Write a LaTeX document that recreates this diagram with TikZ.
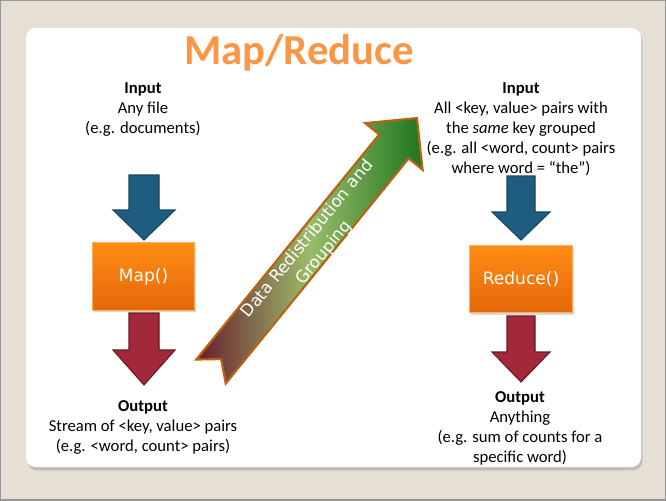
\documentclass[tikz,border=0pt]{standalone}
\usepackage{fontspec}
\setmainfont{Carlito}
\newfontfamily\boxfont{DejaVu Sans}
\usetikzlibrary{shadows}
\definecolor{bgbeige}{RGB}{229,223,212}
\definecolor{framegray}{RGB}{150,150,150}
\definecolor{titleorange}{RGB}{250,150,70}
\definecolor{arrowblue}{RGB}{31,93,128}
\definecolor{arrowblueb}{RGB}{24,68,96}
\definecolor{arrowred}{RGB}{161,41,58}
\definecolor{arrowredb}{RGB}{105,25,36}
\definecolor{boxtop}{RGB}{255,140,20}
\definecolor{boxbot}{RGB}{228,104,10}
\definecolor{boxedge}{RGB}{250,175,100}
\definecolor{grtail}{RGB}{105,28,46}
\definecolor{grmid}{RGB}{155,187,106}
\definecolor{grhead}{RGB}{30,118,30}
\definecolor{grborder}{RGB}{185,100,20}
\begin{document}
\begin{tikzpicture}[x=0.75pt,y=-0.75pt,
  txt/.style={align=center,font=\fontsize{12.5}{15}\selectfont,inner sep=0pt},
  downblue/.style={fill=arrowblue,draw=arrowblueb,line width=0.8pt,line join=miter},
  downred/.style={fill=arrowred,draw=arrowredb,line width=0.8pt,line join=miter},
  funcbox/.style={rectangle,minimum width=77pt,minimum height=50.5pt,
    top color=boxtop,bottom color=boxbot,draw=boxedge,line width=0.6pt,
    text=white,font=\boxfont\fontsize{12.8}{15}\selectfont,
    drop shadow={opacity=0.3,shadow xshift=1pt,shadow yshift=-1.5pt}},
  flowarrow/.style={draw=grborder,line width=1.6pt,line join=miter,
    left color=grtail,right color=grhead,middle color=grmid}]
\useasboundingbox (0,0) rectangle (666,500);
% background and frame
\fill[bgbeige] (0,0) rectangle (666,500);
\draw[framegray,line width=2pt] (0,0) rectangle (666,500);
% white panel
\fill[white,rounded corners=7pt,drop shadow={opacity=0.35,shadow xshift=1pt,shadow yshift=-2.5pt}]
  (26,28) rectangle (641,467);
% title
\node[font=\fontsize{32}{36}\selectfont\bfseries,text=titleorange] (title) at (299,53) {Map/Reduce};
% left column
\node[txt] (inL) at (143,109.5) {\textbf{Input}\\Any file\\(e.g. documents)};
\draw[downblue] (129,175) -- (159,175) -- (159,210) -- (175,210) -- (144,240) -- (113,210) -- (129,210) -- cycle;
\node[funcbox] (mapbox) at (143.5,276.5) {Map()};
\draw[downred] (129,313) -- (159,313) -- (159,350) -- (175,350) -- (144,385) -- (113,350) -- (129,350) -- cycle;
\node[txt] (outL) at (143,427.5) {\textbf{Output}\\Stream of <key, value> pairs\\(e.g. <word, count> pairs)};
% right column
\node[txt] (inR) at (521,129.5) {\textbf{Input}\\All <key, value> pairs with\\the \textit{same} key grouped\\(e.g. all <word, count> pairs\\where word = “the”)};
\draw[downblue] (507,176) -- (535,176) -- (535,212) -- (550,212) -- (521,240) -- (492,212) -- (507,212) -- cycle;
\node[funcbox] (redbox) at (521,279) {Reduce()};
\draw[downred] (507,316) -- (535,316) -- (535,352) -- (550,352) -- (521,382) -- (492,352) -- (507,352) -- cycle;
\node[txt] (outR) at (520,428.5) {\textbf{Output}\\Anything\\(e.g. sum of counts for a\\specific word)};
% data redistribution arrow
\begin{scope}[shift={(211,371.5)},rotate=50.9]
  \draw[flowarrow] (0,-19) -- (290,-19) -- (290,-37) -- (326.6,0) -- (290,37) -- (290,19) -- (0,19) -- (16,0) -- cycle;
\end{scope}
\node[rotate=50.9,text=white,font=\boxfont\fontsize{12.5}{16}\selectfont,align=center,inner sep=0pt] (flowtext) at (316,246) {Data Redistribution and\\Grouping};
\end{tikzpicture}
\end{document}
